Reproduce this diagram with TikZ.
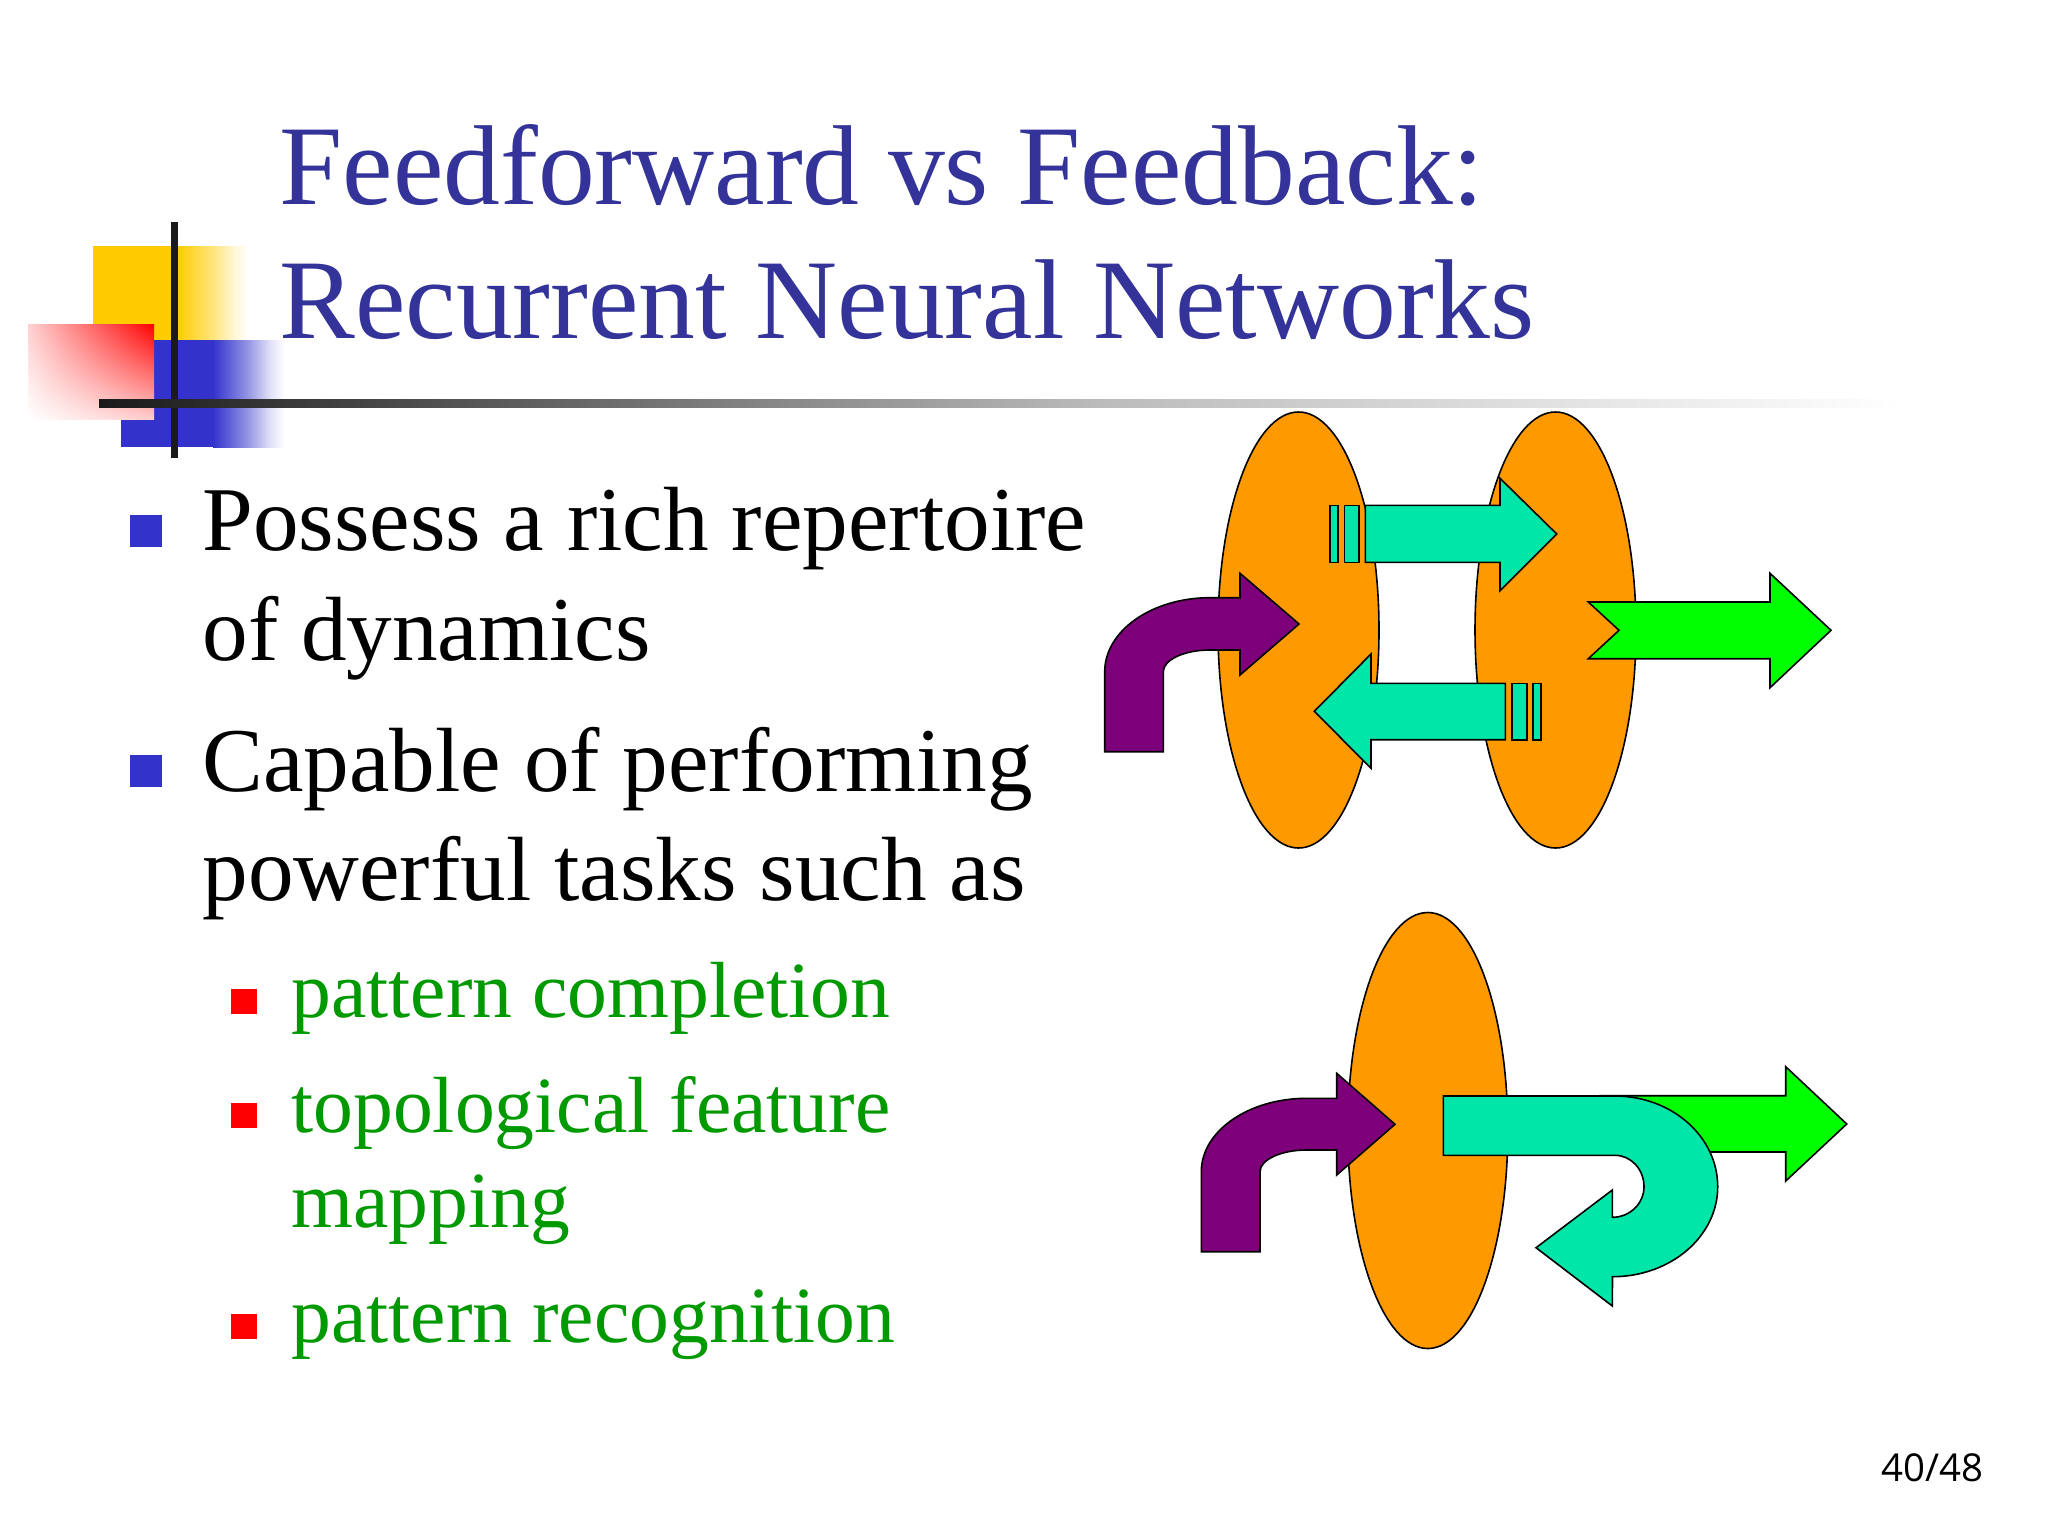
\documentclass[tikz,border=0pt]{standalone}
\usepackage{fontspec}
\setmainfont{Liberation Serif}
\newfontfamily\pagefont{Open Sans}
\usepackage{tikz}
\usetikzlibrary{calc,shadings}
\definecolor{ttlblue}{HTML}{333399}
\definecolor{bulblue}{HTML}{3333CC}
\definecolor{sqyellow}{HTML}{FFCC00}
\definecolor{txtgreen}{HTML}{009900}
\definecolor{blob}{HTML}{FF9900}
\definecolor{teal}{HTML}{00E6A8}
\definecolor{plum}{HTML}{7D007A}
\definecolor{lime}{HTML}{00FF00}
\definecolor{barblack}{HTML}{1A1A1A}
\definecolor{bargrey}{HTML}{BBBBBB}
\pgfdeclarehorizontalshading{yellowfade}{100bp}{color(0bp)=(sqyellow); color(25bp)=(sqyellow); color(50bp)=(sqyellow!50); color(65bp)=(sqyellow!14); color(75bp)=(white); color(100bp)=(white)}
\pgfdeclarehorizontalshading{bluefade}{100bp}{color(0bp)=(bulblue); color(25bp)=(bulblue); color(50bp)=(bulblue!50); color(65bp)=(bulblue!14); color(75bp)=(white); color(100bp)=(white)}
\tikzset{
    % text lines
    ttl/.style={anchor=base west,inner sep=0pt,text=ttlblue,font=\fontsize{56.8}{57}\selectfont},
    bigtxt/.style={anchor=base west,inner sep=0pt,text=black,font=\fontsize{45.6}{46}\selectfont},
    subtxt/.style={anchor=base west,inner sep=0pt,text=txtgreen,font=\fontsize{39.8}{40}\selectfont},
    % outlined shapes
    pil/.style={draw=black,line width=0.8pt,line join=miter,fill=#1},
    oval/.style={draw=black,line width=0.8pt,fill=blob},
}

\begin{document}
\begin{tikzpicture}[x=0.5pt,y=-0.5pt]
  \useasboundingbox (0,0) rectangle (2048,1536);
  \coordinate (p) at (1298.5,630);
  \coordinate (q) at (1555.5,630);
  \coordinate (r) at (1427.8,1130.5);

  % corner squares
  \fill[sqyellow] (93,246) rectangle (177,340);
  \shade[shading=yellowfade] (177,246) rectangle (250,340);
  \fill[bulblue] (121,340) rectangle (213,447);
  \shade[shading=bluefade] (213,340) rectangle (285,447);
  \shade[shading=bilinear interpolation,lower left=white,upper right=red,
    upper left=red!18,lower right=red!20] (28,324) rectangle (154,419);
  \fill[barblack] (171,222) rectangle (178,458);
  \shade[left color=barblack,right color=bargrey] (99,399) rectangle (1100,407);
  \shade[left color=bargrey,right color=white] (1100,399) rectangle (1900,407);

  \node (t1) at (279,204) [ttl] {Feedforward vs Feedback:};
  \node (t2) at (279,338) [ttl] {Recurrent Neural Networks};

  % bullets
  \fill[bulblue] (130,515) rectangle (162,547);
  \fill[bulblue] (130,755) rectangle (162,787);
  \node (a) at (202,550) [bigtxt] {Possess a rich repertoire};
  \node (b) at (202,660) [bigtxt] {of dynamics};
  \node (c) at (202,791) [bigtxt] {Capable of performing};
  \node (d) at (202,900) [bigtxt] {powerful tasks such as};
  \foreach \y in {989,1103,1314}{
    \fill[red] (231,\y) rectangle (257,\y+25);
  }
  \node (e) at (291,1017) [subtxt] {pattern completion};
  \node (f) at (291,1132) [subtxt] {topological feature};
  \node (g) at (291,1227) [subtxt] {mapping};
  \node (h) at (291,1342) [subtxt] {pattern recognition};

  % upper pair
  \draw[oval] (p) ellipse [x radius=80.5,y radius=218];
  \draw[oval] (q) ellipse [x radius=80.5,y radius=218];
  \draw[pil=plum] (1104.7,751.7) -- (1104.7,671.7)
    arc [start angle=180,end angle=270,x radius=105.3,y radius=74]
    -- (1240,597.7) -- (1240,573.3) -- (1299,624) -- (1240,675) -- (1240,650) -- (1210,650)
    arc [start angle=270,end angle=180,x radius=46.7,y radius=21.7]
    -- (1163.3,751.7) -- cycle;
  \draw[pil=teal] (1330,505.3) rectangle (1338,562.3);
  \draw[pil=teal] (1344.3,505.3) rectangle (1359,562.3);
  \draw[pil=teal] (1365.3,505.3) -- (1500,505.3) -- (1500,478.3) -- (1556.7,534)
    -- (1500,590.7) -- (1500,562.3) -- (1365.3,562.3) -- cycle;
  \draw[pil=teal] (1532.7,683.3) rectangle (1540.7,739.7);
  \draw[pil=teal] (1511.7,683.3) rectangle (1526.7,739.7);
  \draw[pil=teal] (1505.3,683.3) -- (1371,683.3) -- (1371,654) -- (1314.3,711.3)
    -- (1371,768.3) -- (1371,739.7) -- (1505.3,739.7) -- cycle;
  \draw[pil=lime] (1588.3,602) -- (1770,602) -- (1770,573.3) -- (1831,630.3)
    -- (1770,687.7) -- (1770,658.7) -- (1588.3,658.7) -- (1619,630.3) -- cycle;

  % lower one
  \draw[oval] (r) ellipse [x radius=80,y radius=218];
  \draw[pil=plum] (1201.3,1251.7) -- (1201.3,1171.7)
    arc [start angle=180,end angle=270,x radius=105.4,y radius=73.4]
    -- (1336.7,1098.3) -- (1336.7,1073.3) -- (1395,1124.3) -- (1336.7,1175) -- (1336.7,1150) -- (1306.7,1150)
    arc [start angle=270,end angle=180,x radius=46.7,y radius=21.7]
    -- (1260,1251.7) -- cycle;
  \draw[pil=lime] (1600,1095.7) -- (1785.7,1095.7) -- (1785.7,1066.7) -- (1846.7,1124)
    -- (1785.7,1181) -- (1785.7,1152) -- (1600,1152) -- cycle;
  \draw[pil=teal] (1443.3,1096) -- (1615,1096)
    arc [start angle=-90,end angle=0,x radius=102.7,y radius=90.7]
    arc [start angle=0,end angle=90,x radius=105.2,y radius=90]
    -- (1612.3,1306) -- (1536,1247.7) -- (1612.3,1190) -- (1612.3,1217.3)
    arc [start angle=90,end angle=0,x radius=31.7,y radius=30.6]
    arc [start angle=0,end angle=-90,x radius=29,y radius=31.4]
    -- (1443.3,1155.3) -- cycle;

  \node (n) at (1881,1481) [anchor=base west,inner sep=0pt,font=\pagefont\fontsize{19.2}{19.2}\selectfont] {40/48};
\end{tikzpicture}
\end{document}
